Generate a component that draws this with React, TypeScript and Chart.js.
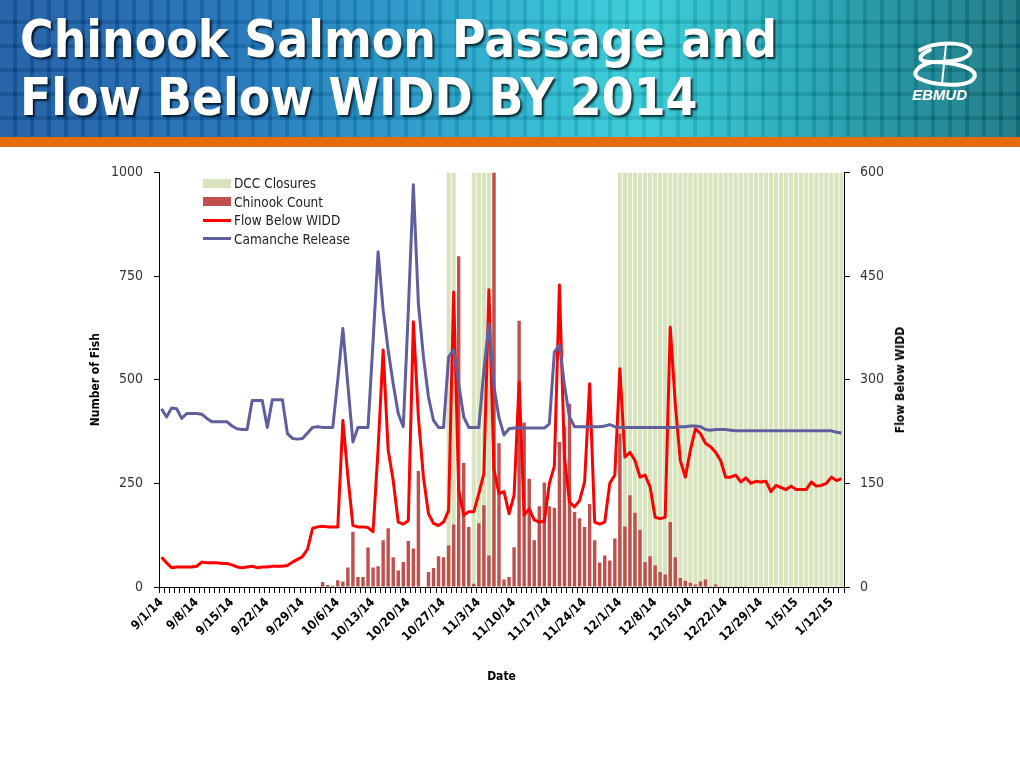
import { useEffect, useRef } from "react"
import { Chart, registerables } from "chart.js"

Chart.register(...registerables)

const FONT = '"DejaVu Sans Condensed", "DejaVu Sans", sans-serif'

// weekly tick labels (every 7th day)
const tickLabels = [
  "9/1/14", "9/8/14", "9/15/14", "9/22/14", "9/29/14", "10/6/14", "10/13/14",
  "10/20/14", "10/27/14", "11/3/14", "11/10/14", "11/17/14", "11/24/14",
  "12/1/14", "12/8/14", "12/15/14", "12/22/14", "12/29/14", "1/5/15", "1/12/15",
]

// daily categories 9/1/14 .. 1/14/15
const dates: string[] = []
for (let d = new Date(2014, 8, 1); d <= new Date(2015, 0, 14); d.setDate(d.getDate() + 1)) {
  dates.push(`${d.getMonth() + 1}/${d.getDate()}/${String(d.getFullYear()).slice(2)}`)
}

// one row per week, starting on the tick label date
const chinookCount = [
  0, 0, 0, 0, 0, 0, 0, // 9/1
  0, 0, 0, 0, 0, 0, 0, // 9/8
  0, 0, 0, 0, 0, 0, 0, // 9/15
  0, 0, 0, 0, 0, 0, 0, // 9/22
  0, 0, 0, 2, 12, 5, 3, // 9/29
  16, 13, 47, 133, 24, 24, 95, // 10/6
  47, 50, 113, 142, 72, 40, 60, // 10/13
  111, 93, 280, 0, 36, 46, 74, // 10/20
  72, 100, 151, 798, 299, 145, 8, // 10/27
  154, 197, 76, 1000, 347, 18, 24, // 11/3
  96, 642, 397, 261, 113, 195, 252, // 11/10
  195, 191, 350, 386, 442, 181, 166, // 11/17
  145, 200, 113, 59, 76, 64, 117, // 11/24
  370, 146, 221, 179, 138, 60, 74, // 12/1
  52, 36, 30, 157, 72, 22, 15, // 12/8
  10, 6, 13, 18, 2, 6, 2, // 12/15
  2, 0, 2, 2, 2, 0, 0, // 12/22
  0, 0, 0, 0, 0, 0, 0, // 12/29
  0, 0, 0, 0, 0, 0, 0, // 1/5
  0, 0, 0, // 1/12
]

const flowBelowWidd = [
  43, 35, 28, 29, 29, 29, 29,
  30, 36, 35, 35, 35, 34, 34,
  32, 29, 28, 29, 30, 28, 29,
  29, 30, 30, 30, 31, 36, 40,
  44, 55, 85, 87, 88, 87, 87,
  87, 241, 160, 89, 87, 87, 86,
  80, 200, 343, 198, 154, 94, 91,
  96, 384, 246, 159, 106, 92, 89,
  94, 111, 427, 140, 104, 109, 109,
  135, 164, 430, 170, 135, 138, 106,
  133, 297, 104, 113, 97, 94, 95,
  150, 175, 437, 188, 123, 116, 125,
  152, 294, 94, 91, 94, 150, 162,
  316, 188, 195, 183, 159, 162, 145,
  101, 99, 101, 376, 265, 183, 159,
  198, 229, 222, 208, 203, 195, 183,
  159, 159, 162, 152, 158, 150, 153,
  152, 153, 138, 147, 144, 141, 146,
  141, 141, 141, 152, 146, 147, 150,
  159, 154, 157,
]

const camancheRelease = [
  258, 246, 259, 258, 244, 251, 251,
  251, 250, 244, 239, 239, 239, 239,
  233, 229, 228, 228, 270, 270, 270,
  231, 271, 271, 271, 222, 215, 214,
  215, 223, 231, 232, 231, 231, 231,
  300, 374, 292, 210, 231, 231, 231,
  355, 485, 401, 343, 294, 251, 232,
  400, 582, 410, 333, 275, 241, 231,
  231, 333, 343, 294, 246, 231, 231,
  231, 314, 381, 290, 245, 220, 229,
  230, 230, 230, 230, 230, 230, 230,
  236, 340, 350, 292, 246, 232, 232,
  232, 232, 232, 232, 233, 235, 232,
  231, 231, 231, 231, 231, 231, 231,
  231, 231, 231, 231, 231, 232, 232,
  233, 233, 232, 228, 227, 228, 228,
  228, 227, 226, 226, 226, 226, 226,
  226, 226, 226, 226, 226, 226, 226,
  226, 226, 226, 226, 226, 226, 226,
  226, 224, 223,
]

// 1 = Delta Cross Channel closed that day
const dccClosed = [
  0, 0, 0, 0, 0, 0, 0,
  0, 0, 0, 0, 0, 0, 0,
  0, 0, 0, 0, 0, 0, 0,
  0, 0, 0, 0, 0, 0, 0,
  0, 0, 0, 0, 0, 0, 0,
  0, 0, 0, 0, 0, 0, 0,
  0, 0, 0, 0, 0, 0, 0,
  0, 0, 0, 0, 0, 0, 0,
  0, 1, 1, 0, 0, 0, 1,
  1, 1, 1, 1, 0, 0, 0,
  0, 0, 0, 0, 0, 0, 0,
  0, 0, 0, 0, 0, 0, 0,
  0, 0, 0, 0, 0, 0, 0,
  1, 1, 1, 1, 1, 1, 1,
  1, 1, 1, 1, 1, 1, 1,
  1, 1, 1, 1, 1, 1, 1,
  1, 1, 1, 1, 1, 1, 1,
  1, 1, 1, 1, 1, 1, 1,
  1, 1, 1, 1, 1, 1, 1,
  1, 1, 1,
]

const fishMax = 1000
const flowMax = 600

const GREEN = "#d7e4bd"
const BRICK = "#c0504d"
const RED = "#ff0000"
const SLATE = "#5f5f9e"

const SalmonChart: React.FC = () => {
  const chartRef = useRef<HTMLCanvasElement | null>(null)

  useEffect(() => {
    if (!chartRef.current) return
    const tickFont = { family: FONT, size: 14 }
    const titleFont = { family: FONT, size: 12, weight: "bold" as const }

    const chart = new Chart(chartRef.current, {
      type: "bar",
      data: {
        labels: dates,
        datasets: [
          {
            type: "line",
            label: "Camanche Release",
            data: camancheRelease,
            yAxisID: "y1",
            borderColor: SLATE,
            borderWidth: 3,
            pointRadius: 0,
            tension: 0,
            borderJoinStyle: "round",
            order: 0,
          },
          {
            type: "line",
            label: "Flow Below WIDD",
            data: flowBelowWidd,
            yAxisID: "y1",
            borderColor: RED,
            borderWidth: 3,
            pointRadius: 0,
            tension: 0,
            borderJoinStyle: "round",
            order: 1,
          },
          {
            type: "bar",
            label: "Chinook Count",
            data: chinookCount,
            yAxisID: "y",
            backgroundColor: BRICK,
            barPercentage: 0.68,
            categoryPercentage: 1,
            grouped: false,
            order: 2,
          },
          {
            type: "bar",
            label: "DCC Closures",
            data: dccClosed.map((c) => (c ? fishMax : null)),
            yAxisID: "y",
            backgroundColor: GREEN,
            barPercentage: 0.82,
            categoryPercentage: 1,
            grouped: false,
            order: 3,
          },
        ],
      },
      options: {
        animation: false,
        responsive: false,
        layout: { padding: 0 },
        plugins: {
          legend: { display: false },
          tooltip: { enabled: false },
        },
        scales: {
          x: {
            type: "category",
            offset: true,
            grid: { drawOnChartArea: false, drawTicks: true, tickLength: 6, color: "#000", offset: true },
            border: { display: true, color: "#000", width: 1 },
            ticks: {
              autoSkip: false,
              minRotation: 45,
              maxRotation: 45,
              padding: 2,
              color: "#000",
              font: { family: FONT, size: 12.5, weight: "bold" },
              callback: (_v, i) => (i % 7 === 0 ? tickLabels[i / 7] : ""),
            },
            title: { display: true, text: "Date", color: "#000", font: titleFont, padding: { top: 0, bottom: 16 } },
            afterFit: (s) => {
              s.height = 113
            },
          },
          y: {
            position: "left",
            min: 0,
            max: fishMax,
            grid: { drawOnChartArea: false, drawTicks: true, tickLength: 5, color: "#000" },
            border: { display: true, color: "#000", width: 1 },
            ticks: { stepSize: 250, padding: 11, color: "#333", font: tickFont, callback: (v) => String(v) },
            title: { display: true, text: "Number of Fish", color: "#000", font: titleFont, padding: { top: 29, bottom: 0 } },
            afterFit: (s) => {
              s.width = 99
            },
          },
          y1: {
            position: "right",
            min: 0,
            max: flowMax,
            grid: { drawOnChartArea: false, drawTicks: true, tickLength: 6, color: "#000" },
            border: { display: true, color: "#000", width: 1 },
            ticks: { stepSize: 150, padding: 10, color: "#333", font: tickFont, callback: (v) => String(v) },
            afterFit: (s) => {
              s.width = 96
            },
          },
        },
      },
    })

    return () => {
      chart.destroy()
    }
  }, [])

  // the y tick labels reserve ~19px above the plot, so the canvas starts above 172
  return (
    <canvas
      ref={chartRef}
      width={880}
      height={547}
      style={{ position: "absolute", left: 60, top: 153, width: 880, height: 547 }}
    />
  )
}

const legendItems = [
  { label: "DCC Closures", color: GREEN, kind: "box" },
  { label: "Chinook Count", color: BRICK, kind: "box" },
  { label: "Flow Below WIDD", color: RED, kind: "line" },
  { label: "Camanche Release", color: SLATE, kind: "line" },
]

const Header: React.FC = () => (
  <div
    style={{
      position: "absolute",
      left: 0,
      top: 0,
      width: 1020,
      height: 137,
      overflow: "hidden",
      background: [
        "repeating-linear-gradient(90deg, rgba(255,255,255,0.07) 0px 13px, rgba(0,0,0,0.07) 13px 17px)",
        "repeating-linear-gradient(180deg, rgba(255,255,255,0.05) 0px 20px, rgba(0,0,0,0.09) 20px 24px)",
        "linear-gradient(90deg, #0d4f9c 0%, #0f66b2 22%, #1590c4 40%, #1fb5cf 53%, #26c8d4 63%, #14a2b2 78%, #0d8190 90%, #0a6e7c 100%)",
      ].join(", "),
    }}
  >
    <div
      style={{
        position: "absolute",
        left: 20,
        top: 11,
        fontFamily: FONT,
        fontWeight: "bold",
        fontSize: 51,
        lineHeight: "58px",
        color: "#fff",
        whiteSpace: "nowrap",
        textShadow: "2px 2px 2px rgba(0,0,0,0.75)",
      }}
    >
      <div>Chinook Salmon Passage and</div>
      <div>Flow Below WIDD BY 2014</div>
    </div>
    <svg width={80} height={50} style={{ position: "absolute", left: 908, top: 40 }}>
      <g fill="none" stroke="#fff" strokeWidth={4} strokeLinecap="round">
        <path d="M12 10 C 30 0, 66 2, 62 13 C 58 22, 36 22, 24 22" />
        <path d="M24 22 C 44 22, 72 28, 66 38 C 60 48, 26 46, 10 38" />
        <path d="M22 10 C 8 16, 10 22, 24 22 C 8 26, 4 34, 10 38" />
        <path d="M38 4 L 34 44" strokeWidth={2} />
      </g>
    </svg>
    <div
      style={{
        position: "absolute",
        left: 912,
        top: 86,
        fontFamily: '"Liberation Sans", sans-serif',
        fontWeight: "bold",
        fontStyle: "italic",
        fontSize: 15,
        color: "#fff",
      }}
    >
      EBMUD
    </div>
  </div>
)

const App: React.FC = () => (
  <div style={{ position: "absolute", left: 0, top: 0, width: 1020, height: 765, background: "#fff", overflow: "hidden" }}>
    <Header />
    <div style={{ position: "absolute", left: 0, top: 137, width: 1020, height: 10, background: "#e46c0a" }} />
    <SalmonChart />
    {legendItems.map((item, i) => (
      <div
        key={item.label}
        style={{ position: "absolute", left: 203, top: 174 + i * 18.5, height: 18, display: "flex", alignItems: "center" }}
      >
        <div
          style={{
            width: 28,
            height: item.kind === "box" ? 9 : 3,
            background: item.color,
          }}
        />
        <span style={{ marginLeft: 3, fontFamily: FONT, fontSize: 13.5, color: "#222", whiteSpace: "nowrap" }}>
          {item.label}
        </span>
      </div>
    ))}
    <div
      style={{
        position: "absolute",
        left: 900,
        top: 380,
        transform: "translate(-50%, -50%) rotate(-90deg)",
        fontFamily: FONT,
        fontWeight: "bold",
        fontSize: 12,
        color: "#000",
        whiteSpace: "nowrap",
      }}
    >
      Flow Below WIDD
    </div>
  </div>
)

export default App
